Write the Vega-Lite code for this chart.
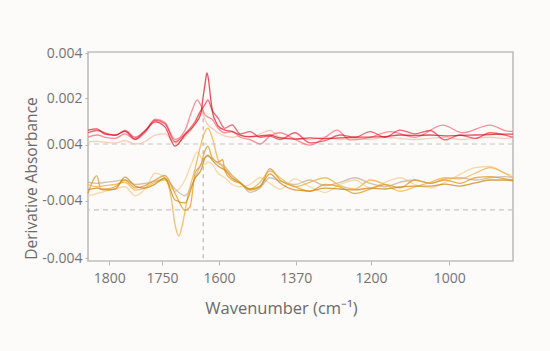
{
  "$schema": "https://vega.github.io/schema/vega-lite/v6.json",
  "autosize": {"type": "none"},
  "width": 425,
  "height": 209,
  "padding": {"left": 88, "top": 52, "right": 37, "bottom": 90},
  "background": "#fdfafa",
  "config": {
    "view": {"stroke": "#bfbfbf", "strokeWidth": 1.6},
    "font": "Open Sans",
    "axis": {"grid": false, "domain": false, "tickColor": "#b5b5b5", "labelColor": "#747474", "titleColor": "#6a6a6a", "labelFont": "Open Sans", "titleFont": "Open Sans", "titleFontWeight": "normal"}
  },
  "datasets": {
    "spectra": [
      {"s":"s1","x":1850,"y":-2.3},{"s":"s1","x":1829,"y":-2.2},{"s":"s1","x":1810,"y":-2.1},{"s":"s1","x":1786,"y":-2.0},{"s":"s1","x":1763,"y":-1.9},{"s":"s1","x":1739,"y":-2.3},{"s":"s1","x":1716,"y":-2.0},{"s":"s1","x":1692,"y":-1.3},{"s":"s1","x":1669,"y":-1.5},{"s":"s1","x":1645,"y":-2.1},{"s":"s1","x":1622,"y":-1.6},{"s":"s1","x":1605,"y":-0.8},{"s":"s1","x":1593,"y":-0.35},{"s":"s1","x":1584,"y":-0.6},{"s":"s1","x":1575,"y":-0.9},{"s":"s1","x":1568,"y":-0.8},{"s":"s1","x":1558,"y":-0.9},{"s":"s1","x":1544,"y":-1.3},{"s":"s1","x":1528,"y":-1.5},{"s":"s1","x":1511,"y":-1.8},{"s":"s1","x":1492,"y":-1.9},{"s":"s1","x":1469,"y":-1.8},{"s":"s1","x":1445,"y":-1.5},{"s":"s1","x":1422,"y":-1.75},{"s":"s1","x":1398,"y":-2.0},{"s":"s1","x":1363,"y":-1.55},{"s":"s1","x":1328,"y":-1.9},{"s":"s1","x":1292,"y":-2.15},{"s":"s1","x":1257,"y":-1.8},{"s":"s1","x":1222,"y":-1.6},{"s":"s1","x":1186,"y":-1.95},{"s":"s1","x":1151,"y":-1.7},{"s":"s1","x":1116,"y":-1.5},{"s":"s1","x":1081,"y":-1.8},{"s":"s1","x":1045,"y":-1.95},{"s":"s1","x":1010,"y":-1.7},{"s":"s1","x":975,"y":-1.35},{"s":"s1","x":939,"y":-1.05},{"s":"s1","x":904,"y":-1.0},{"s":"s1","x":869,"y":-1.3},{"s":"s1","x":850,"y":-1.4},
      {"s":"s2","x":1850,"y":-1.7},{"s":"s2","x":1829,"y":-1.75},{"s":"s2","x":1810,"y":-1.7},{"s":"s2","x":1786,"y":-1.65},{"s":"s2","x":1763,"y":-1.6},{"s":"s2","x":1739,"y":-1.8},{"s":"s2","x":1716,"y":-1.75},{"s":"s2","x":1692,"y":-1.65},{"s":"s2","x":1669,"y":-1.55},{"s":"s2","x":1645,"y":-2.0},{"s":"s2","x":1622,"y":-2.3},{"s":"s2","x":1598,"y":-1.5},{"s":"s2","x":1584,"y":-0.9},{"s":"s2","x":1575,"y":-0.6},{"s":"s2","x":1568,"y":-0.55},{"s":"s2","x":1558,"y":-0.65},{"s":"s2","x":1544,"y":-0.85},{"s":"s2","x":1528,"y":-1.0},{"s":"s2","x":1511,"y":-1.4},{"s":"s2","x":1492,"y":-1.7},{"s":"s2","x":1469,"y":-2.15},{"s":"s2","x":1445,"y":-1.95},{"s":"s2","x":1422,"y":-1.5},{"s":"s2","x":1398,"y":-1.65},{"s":"s2","x":1363,"y":-1.8},{"s":"s2","x":1328,"y":-1.6},{"s":"s2","x":1292,"y":-1.85},{"s":"s2","x":1257,"y":-1.7},{"s":"s2","x":1222,"y":-1.5},{"s":"s2","x":1186,"y":-1.75},{"s":"s2","x":1151,"y":-1.9},{"s":"s2","x":1116,"y":-1.7},{"s":"s2","x":1081,"y":-1.6},{"s":"s2","x":1045,"y":-1.75},{"s":"s2","x":1010,"y":-1.55},{"s":"s2","x":975,"y":-1.5},{"s":"s2","x":939,"y":-1.6},{"s":"s2","x":904,"y":-1.5},{"s":"s2","x":869,"y":-1.45},{"s":"s2","x":850,"y":-1.5},
      {"s":"s3","x":1850,"y":-1.8},{"s":"s3","x":1829,"y":-1.9},{"s":"s3","x":1810,"y":-1.85},{"s":"s3","x":1786,"y":-1.8},{"s":"s3","x":1763,"y":-1.7},{"s":"s3","x":1739,"y":-2.05},{"s":"s3","x":1716,"y":-1.95},{"s":"s3","x":1692,"y":-1.7},{"s":"s3","x":1669,"y":-1.6},{"s":"s3","x":1655,"y":-2.3},{"s":"s3","x":1645,"y":-3.6},{"s":"s3","x":1636,"y":-4.09},{"s":"s3","x":1627,"y":-3.5},{"s":"s3","x":1615,"y":-2.3},{"s":"s3","x":1598,"y":-1.1},{"s":"s3","x":1584,"y":0.0},{"s":"s3","x":1575,"y":0.55},{"s":"s3","x":1568,"y":0.71},{"s":"s3","x":1558,"y":0.3},{"s":"s3","x":1544,"y":-0.7},{"s":"s3","x":1528,"y":-1.1},{"s":"s3","x":1511,"y":-1.4},{"s":"s3","x":1492,"y":-1.7},{"s":"s3","x":1469,"y":-2.0},{"s":"s3","x":1445,"y":-1.7},{"s":"s3","x":1422,"y":-1.2},{"s":"s3","x":1398,"y":-1.5},{"s":"s3","x":1363,"y":-1.9},{"s":"s3","x":1328,"y":-1.7},{"s":"s3","x":1292,"y":-1.5},{"s":"s3","x":1257,"y":-1.85},{"s":"s3","x":1222,"y":-2.0},{"s":"s3","x":1186,"y":-1.6},{"s":"s3","x":1151,"y":-1.8},{"s":"s3","x":1116,"y":-2.1},{"s":"s3","x":1081,"y":-1.9},{"s":"s3","x":1045,"y":-1.7},{"s":"s3","x":1010,"y":-1.5},{"s":"s3","x":975,"y":-1.55},{"s":"s3","x":939,"y":-1.3},{"s":"s3","x":904,"y":-1.05},{"s":"s3","x":869,"y":-1.3},{"s":"s3","x":850,"y":-1.5},
      {"s":"s4","x":1850,"y":-2.2},{"s":"s4","x":1829,"y":-1.42},{"s":"s4","x":1820,"y":-2.0},{"s":"s4","x":1810,"y":-2.0},{"s":"s4","x":1786,"y":-1.9},{"s":"s4","x":1763,"y":-1.6},{"s":"s4","x":1739,"y":-1.95},{"s":"s4","x":1716,"y":-1.85},{"s":"s4","x":1692,"y":-1.6},{"s":"s4","x":1669,"y":-1.4},{"s":"s4","x":1645,"y":-2.2},{"s":"s4","x":1622,"y":-2.95},{"s":"s4","x":1610,"y":-2.8},{"s":"s4","x":1598,"y":-1.3},{"s":"s4","x":1584,"y":-0.9},{"s":"s4","x":1575,"y":-0.3},{"s":"s4","x":1568,"y":-0.1},{"s":"s4","x":1558,"y":-0.6},{"s":"s4","x":1544,"y":-0.8},{"s":"s4","x":1533,"y":-0.7},{"s":"s4","x":1528,"y":-1.2},{"s":"s4","x":1511,"y":-1.6},{"s":"s4","x":1492,"y":-1.75},{"s":"s4","x":1469,"y":-2.05},{"s":"s4","x":1445,"y":-1.9},{"s":"s4","x":1422,"y":-1.1},{"s":"s4","x":1398,"y":-1.6},{"s":"s4","x":1363,"y":-1.9},{"s":"s4","x":1328,"y":-2.1},{"s":"s4","x":1292,"y":-1.8},{"s":"s4","x":1257,"y":-1.9},{"s":"s4","x":1222,"y":-2.2},{"s":"s4","x":1186,"y":-2.0},{"s":"s4","x":1151,"y":-1.8},{"s":"s4","x":1116,"y":-1.95},{"s":"s4","x":1081,"y":-1.6},{"s":"s4","x":1045,"y":-1.75},{"s":"s4","x":1010,"y":-1.6},{"s":"s4","x":975,"y":-1.75},{"s":"s4","x":939,"y":-1.5},{"s":"s4","x":904,"y":-1.45},{"s":"s4","x":869,"y":-1.55},{"s":"s4","x":850,"y":-1.6},
      {"s":"s5","x":1850,"y":-2.04},{"s":"s5","x":1829,"y":-1.96},{"s":"s5","x":1810,"y":-2.04},{"s":"s5","x":1786,"y":-2.0},{"s":"s5","x":1763,"y":-1.47},{"s":"s5","x":1739,"y":-1.87},{"s":"s5","x":1716,"y":-1.96},{"s":"s5","x":1692,"y":-1.78},{"s":"s5","x":1669,"y":-1.51},{"s":"s5","x":1645,"y":-2.49},{"s":"s5","x":1622,"y":-2.62},{"s":"s5","x":1598,"y":-1.51},{"s":"s5","x":1584,"y":-1.16},{"s":"s5","x":1575,"y":-0.62},{"s":"s5","x":1568,"y":-0.49},{"s":"s5","x":1558,"y":-0.71},{"s":"s5","x":1544,"y":-0.98},{"s":"s5","x":1528,"y":-1.16},{"s":"s5","x":1511,"y":-1.51},{"s":"s5","x":1492,"y":-1.73},{"s":"s5","x":1469,"y":-2.0},{"s":"s5","x":1445,"y":-1.87},{"s":"s5","x":1422,"y":-1.33},{"s":"s5","x":1398,"y":-1.73},{"s":"s5","x":1363,"y":-2.04},{"s":"s5","x":1328,"y":-2.09},{"s":"s5","x":1292,"y":-1.96},{"s":"s5","x":1257,"y":-2.0},{"s":"s5","x":1222,"y":-2.04},{"s":"s5","x":1186,"y":-1.96},{"s":"s5","x":1151,"y":-2.0},{"s":"s5","x":1116,"y":-1.91},{"s":"s5","x":1081,"y":-1.87},{"s":"s5","x":1045,"y":-1.87},{"s":"s5","x":1010,"y":-1.78},{"s":"s5","x":975,"y":-1.87},{"s":"s5","x":939,"y":-1.73},{"s":"s5","x":904,"y":-1.6},{"s":"s5","x":869,"y":-1.6},{"s":"s5","x":850,"y":-1.64},
      {"s":"s6","x":1850,"y":0.1},{"s":"s6","x":1829,"y":0.12},{"s":"s6","x":1810,"y":0.08},{"s":"s6","x":1786,"y":0.05},{"s":"s6","x":1763,"y":0.15},{"s":"s6","x":1739,"y":0.0},{"s":"s6","x":1716,"y":0.1},{"s":"s6","x":1692,"y":0.4},{"s":"s6","x":1669,"y":0.45},{"s":"s6","x":1645,"y":0.05},{"s":"s6","x":1622,"y":0.3},{"s":"s6","x":1598,"y":0.9},{"s":"s6","x":1584,"y":1.5},{"s":"s6","x":1575,"y":1.1},{"s":"s6","x":1568,"y":0.85},{"s":"s6","x":1558,"y":0.7},{"s":"s6","x":1544,"y":0.5},{"s":"s6","x":1528,"y":0.35},{"s":"s6","x":1511,"y":0.3},{"s":"s6","x":1492,"y":0.35},{"s":"s6","x":1469,"y":0.3},{"s":"s6","x":1445,"y":0.45},{"s":"s6","x":1422,"y":0.6},{"s":"s6","x":1398,"y":0.3},{"s":"s6","x":1363,"y":0.25},{"s":"s6","x":1328,"y":0.2},{"s":"s6","x":1292,"y":0.3},{"s":"s6","x":1257,"y":0.2},{"s":"s6","x":1222,"y":0.25},{"s":"s6","x":1186,"y":0.2},{"s":"s6","x":1151,"y":0.3},{"s":"s6","x":1116,"y":0.25},{"s":"s6","x":1081,"y":0.2},{"s":"s6","x":1045,"y":0.25},{"s":"s6","x":1010,"y":0.3},{"s":"s6","x":975,"y":0.2},{"s":"s6","x":939,"y":0.25},{"s":"s6","x":904,"y":0.3},{"s":"s6","x":869,"y":0.25},{"s":"s6","x":850,"y":0.3},
      {"s":"s7","x":1850,"y":0.3},{"s":"s7","x":1829,"y":0.4},{"s":"s7","x":1810,"y":0.3},{"s":"s7","x":1786,"y":0.25},{"s":"s7","x":1763,"y":0.45},{"s":"s7","x":1739,"y":0.2},{"s":"s7","x":1716,"y":0.5},{"s":"s7","x":1692,"y":1.1},{"s":"s7","x":1669,"y":0.95},{"s":"s7","x":1645,"y":0.2},{"s":"s7","x":1622,"y":0.6},{"s":"s7","x":1605,"y":1.5},{"s":"s7","x":1593,"y":1.96},{"s":"s7","x":1584,"y":1.7},{"s":"s7","x":1575,"y":1.3},{"s":"s7","x":1568,"y":1.2},{"s":"s7","x":1558,"y":1.1},{"s":"s7","x":1544,"y":0.7},{"s":"s7","x":1528,"y":0.5},{"s":"s7","x":1511,"y":0.55},{"s":"s7","x":1492,"y":0.3},{"s":"s7","x":1469,"y":0.2},{"s":"s7","x":1445,"y":0.0},{"s":"s7","x":1422,"y":0.35},{"s":"s7","x":1398,"y":0.5},{"s":"s7","x":1363,"y":0.2},{"s":"s7","x":1328,"y":-0.05},{"s":"s7","x":1292,"y":0.3},{"s":"s7","x":1264,"y":0.62},{"s":"s7","x":1234,"y":0.18},{"s":"s7","x":1186,"y":0.3},{"s":"s7","x":1139,"y":0.55},{"s":"s7","x":1081,"y":0.3},{"s":"s7","x":1015,"y":0.84},{"s":"s7","x":968,"y":0.5},{"s":"s7","x":904,"y":0.84},{"s":"s7","x":869,"y":0.6},{"s":"s7","x":850,"y":0.55},
      {"s":"s8","x":1850,"y":0.5},{"s":"s8","x":1829,"y":0.6},{"s":"s8","x":1810,"y":0.5},{"s":"s8","x":1786,"y":0.38},{"s":"s8","x":1763,"y":0.6},{"s":"s8","x":1739,"y":0.3},{"s":"s8","x":1716,"y":0.6},{"s":"s8","x":1692,"y":1.05},{"s":"s8","x":1669,"y":0.9},{"s":"s8","x":1645,"y":0.1},{"s":"s8","x":1622,"y":0.45},{"s":"s8","x":1598,"y":1.0},{"s":"s8","x":1584,"y":1.5},{"s":"s8","x":1575,"y":1.75},{"s":"s8","x":1568,"y":1.96},{"s":"s8","x":1558,"y":1.5},{"s":"s8","x":1544,"y":1.15},{"s":"s8","x":1528,"y":0.7},{"s":"s8","x":1511,"y":0.85},{"s":"s8","x":1492,"y":0.45},{"s":"s8","x":1469,"y":0.55},{"s":"s8","x":1445,"y":0.3},{"s":"s8","x":1422,"y":0.35},{"s":"s8","x":1398,"y":0.2},{"s":"s8","x":1363,"y":0.5},{"s":"s8","x":1328,"y":0.05},{"s":"s8","x":1292,"y":0.15},{"s":"s8","x":1257,"y":0.4},{"s":"s8","x":1222,"y":0.3},{"s":"s8","x":1186,"y":0.55},{"s":"s8","x":1151,"y":0.3},{"s":"s8","x":1116,"y":0.62},{"s":"s8","x":1081,"y":0.45},{"s":"s8","x":1045,"y":0.6},{"s":"s8","x":1010,"y":0.18},{"s":"s8","x":975,"y":0.4},{"s":"s8","x":939,"y":0.25},{"s":"s8","x":904,"y":0.5},{"s":"s8","x":869,"y":0.4},{"s":"s8","x":850,"y":0.3},
      {"s":"s9","x":1850,"y":0.62},{"s":"s9","x":1829,"y":0.67},{"s":"s9","x":1810,"y":0.44},{"s":"s9","x":1786,"y":0.4},{"s":"s9","x":1763,"y":0.56},{"s":"s9","x":1739,"y":0.22},{"s":"s9","x":1716,"y":0.56},{"s":"s9","x":1692,"y":0.98},{"s":"s9","x":1669,"y":0.76},{"s":"s9","x":1645,"y":-0.09},{"s":"s9","x":1622,"y":0.4},{"s":"s9","x":1598,"y":0.89},{"s":"s9","x":1584,"y":1.38},{"s":"s9","x":1580,"y":1.96},{"s":"s9","x":1575,"y":2.62},{"s":"s9","x":1570,"y":3.16},{"s":"s9","x":1566,"y":2.8},{"s":"s9","x":1561,"y":1.96},{"s":"s9","x":1556,"y":1.33},{"s":"s9","x":1549,"y":0.98},{"s":"s9","x":1544,"y":0.8},{"s":"s9","x":1528,"y":0.62},{"s":"s9","x":1511,"y":0.56},{"s":"s9","x":1492,"y":0.4},{"s":"s9","x":1469,"y":0.33},{"s":"s9","x":1445,"y":0.36},{"s":"s9","x":1422,"y":0.4},{"s":"s9","x":1398,"y":0.27},{"s":"s9","x":1363,"y":0.22},{"s":"s9","x":1328,"y":0.27},{"s":"s9","x":1292,"y":0.24},{"s":"s9","x":1257,"y":0.27},{"s":"s9","x":1222,"y":0.31},{"s":"s9","x":1186,"y":0.31},{"s":"s9","x":1151,"y":0.33},{"s":"s9","x":1116,"y":0.4},{"s":"s9","x":1081,"y":0.38},{"s":"s9","x":1045,"y":0.4},{"s":"s9","x":1010,"y":0.36},{"s":"s9","x":975,"y":0.38},{"s":"s9","x":939,"y":0.4},{"s":"s9","x":904,"y":0.42},{"s":"s9","x":869,"y":0.44},{"s":"s9","x":850,"y":0.44}
    ]
  },
  "layer": [
    {
      "data": {"values": [{"base": 0}, {"base": -2.93}]},
      "mark": {"type": "rule", "color": "#c6c6c6", "strokeDash": [5, 4], "strokeWidth": 1.2},
      "encoding": {"y": {"field": "base", "type": "quantitative", "scale": {"domain": [-5.2, 4.09], "nice": false, "zero": false}}}
    },
    {
      "data": {"values": [{"wn": 1579, "top": 1.5, "bottom": -5.2}]},
      "mark": {"type": "rule", "color": "#b8b8b8", "strokeDash": [4, 4], "strokeWidth": 1.2},
      "encoding": {
        "x": {"field": "wn", "type": "quantitative"},
        "y": {"field": "top", "type": "quantitative"},
        "y2": {"field": "bottom"}
      }
    },
    {
      "data": {"name": "spectra"},
      "mark": {"type": "line", "interpolate": "monotone"},
      "encoding": {
        "x": {
          "field": "x", "type": "quantitative",
          "scale": {"domain": [1850, 850], "nice": false, "zero": false},
          "axis": {
            "title": "Wavenumber (cm⁻¹)",
            "values": [1800, 1676, 1542, 1361, 1184, 1000],
            "labelExpr": "datum.value > 1750 ? '1800' : datum.value > 1600 ? '1750' : datum.value > 1450 ? '1600' : datum.value > 1280 ? '1370' : datum.value > 1100 ? '1200' : '1000'",
            "tickSize": 4, "labelPadding": 6, "labelFontSize": 14,
            "titleFontSize": 16.5, "titleX": 193, "titleY": 47, "titleBaseline": "middle", "titleAnchor": "middle"
          }
        },
        "y": {
          "field": "y", "type": "quantitative",
          "scale": {"domain": [-5.2, 4.09], "nice": false, "zero": false},
          "axis": {
            "title": "Derivative Absorbance",
            "values": [4.04, 2.04, -0.04, -2.53, -5.07],
            "labelExpr": "datum.value > 3 ? '0.004' : datum.value > 1 ? '0.002' : datum.value > -1 ? '0.004' : '-0.004'",
            "tickSize": 3, "labelPadding": 3, "labelFontSize": 14,
            "titleFontSize": 15.5, "titleX": -57, "titleY": 126, "titleBaseline": "middle", "titleAngle": -90
          }
        },
        "color": {"field": "s", "type": "nominal", "legend": null,
          "scale": {"domain": ["s1","s2","s3","s4","s5","s6","s7","s8","s9"],
                    "range": ["#f5d49a","#c8b6a6","#f0b44c","#e59a2a","#c98a14","#f8bba5","#f66a78","#ee2a3c","#d40a1a"]}},
        "strokeWidth": {"field": "s", "type": "nominal", "legend": null,
          "scale": {"domain": ["s1","s2","s3","s4","s5","s6","s7","s8","s9"],
                    "range": [1.3, 1.3, 1.5, 1.4, 2.0, 1.3, 1.3, 1.4, 2.5]}},
        "opacity": {"field": "s", "type": "nominal", "legend": null,
          "scale": {"domain": ["s1","s2","s3","s4","s5","s6","s7","s8","s9"],
                    "range": [0.85, 0.7, 0.85, 0.85, 1, 0.8, 0.8, 0.85, 1]}}
      }
    }
  ]
}
